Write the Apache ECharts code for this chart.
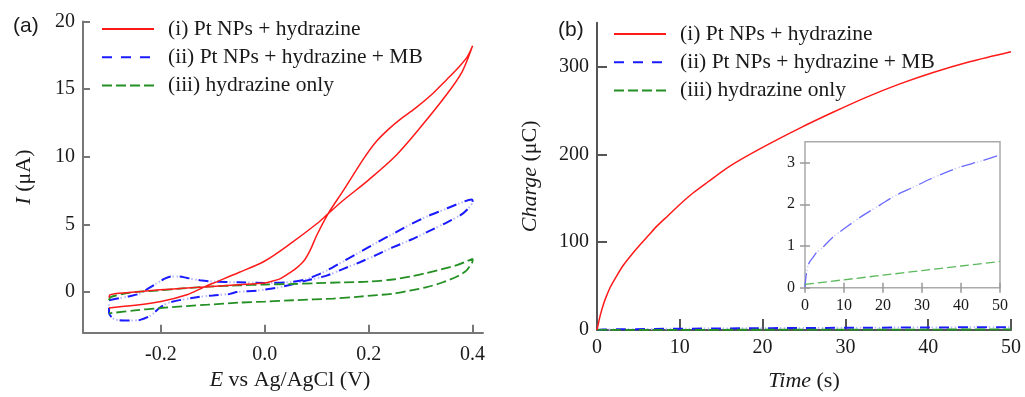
<!DOCTYPE html>
<html>
<head>
<meta charset="utf-8">
<script src="https://cdn.jsdelivr.net/npm/echarts@6/dist/echarts.min.js"></script>
<style>
html, body { margin: 0; padding: 0; background: #fff; }
#chart { width: 1025px; height: 397px; }
</style>
</head>
<body>
<div id="chart"></div>
<script>
// (a) cyclic voltammograms, potential in V, current in uA (each one is a loop)
const redE = [-0.3, -0.25, -0.2, -0.15, -0.118, -0.1, -0.05, 0, 0.05, 0.1, 0.122, 0.15, 0.2, 0.25, 0.3, 0.35, 0.38, 0.4,
    0.39, 0.375, 0.35, 0.324, 0.29, 0.26, 0.24, 0.215, 0.19, 0.151, 0.122, 0.1, 0.087, 0.075, 0.06, 0.045, 0.03, 0.015, 0, -0.05, -0.11, -0.15, -0.208, -0.25, -0.29, -0.298, -0.3];
const redI = [-1.17, -0.98, -0.7, -0.2, 0.35, 0.65, 1.45, 2.3, 3.6, 5.05, 5.8, 6.75, 8.3, 10.0, 12.2, 14.6, 16.3, 18.2,
    17.4, 16.7, 15.7, 14.7, 13.6, 12.75, 12.1, 11.15, 9.85, 7.5, 5.8, 4.2, 3.07, 2.3, 1.75, 1.35, 1.0, 0.82, 0.68, 0.55, 0.4, 0.3, 0.16, 0.0, -0.13, -0.2, -0.4];

const blueE = [-0.3, -0.28, -0.26, -0.24, -0.225, -0.21, -0.195, -0.18, -0.165, -0.15, -0.125, -0.1, -0.05, 0, 0.05, 0.08, 0.1, 0.119, 0.15, 0.183, 0.215, 0.247, 0.28, 0.312, 0.345, 0.376, 0.398,
    0.4, 0.392, 0.376, 0.345, 0.312, 0.28, 0.247, 0.215, 0.183, 0.15, 0.119, 0.08, 0.05, 0.02, -0.015, -0.054, -0.067, -0.1, -0.131, -0.182, -0.201, -0.22, -0.24, -0.255, -0.272, -0.291, -0.3, -0.3];
const blueI = [-0.6, -0.45, -0.3, -0.1, 0.25, 0.6, 0.95, 1.15, 1.15, 1.05, 0.88, 0.78, 0.72, 0.68, 0.75, 0.95, 1.25, 1.59, 2.25, 2.95, 3.65, 4.31, 5.0, 5.59, 6.1, 6.58, 6.85,
    6.7, 6.2, 5.67, 5.05, 4.43, 3.85, 3.32, 2.75, 2.21, 1.7, 1.22, 0.85, 0.55, 0.3, 0.11, 0.0, -0.13, -0.25, -0.38, -0.75, -1.12, -1.74, -2.05, -2.1, -2.1, -1.98, -1.5, -0.8];

const greenE = [-0.3, -0.297, -0.272, -0.25, -0.208, -0.15, -0.11, -0.05, 0, 0.05, 0.1, 0.15, 0.2, 0.25, 0.28, 0.31, 0.343, 0.37, 0.39, 0.4,
    0.4, 0.395, 0.388, 0.37, 0.343, 0.31, 0.279, 0.25, 0.183, 0.132, 0.055, 0, -0.05, -0.11, -0.15, -0.208, -0.25, -0.3];
const greenI = [-0.6, -0.37, -0.13, 0.0, 0.11, 0.3, 0.4, 0.5, 0.56, 0.6, 0.66, 0.72, 0.78, 0.95, 1.15, 1.4, 1.72, 2.0, 2.3, 2.46,
    2.3, 1.95, 1.59, 1.15, 0.73, 0.35, 0.11, -0.1, -0.33, -0.48, -0.6, -0.7, -0.78, -0.93, -1.03, -1.2, -1.35, -1.57];

// (b) charge vs time, uC
const redT = [0, 0.4, 0.8, 1.2, 1.6, 2.4, 3.2, 4.2, 5.2, 6.2, 7.2, 8.6, 10, 11.6, 13.3, 16.1, 20, 24.5, 28.5, 32.5, 36.5, 40.5, 45, 50];
const redQ = [0, 17, 30, 40, 48.7, 62, 74, 86, 97, 107.5, 118, 130.5, 143, 156, 168, 187, 208, 230, 248, 265, 280, 293, 305.5, 317];
const blueT = [0, 0.3, 0.7, 1.2, 2, 3, 4.7, 7, 10.7, 15, 19.2, 23, 27.8, 32, 36.3, 40, 44.9, 50];
const blueQ = [0.02, 0.3, 0.5, 0.62, 0.72, 0.85, 0.98, 1.2, 1.46, 1.74, 1.98, 2.2, 2.41, 2.6, 2.77, 2.9, 3.03, 3.18];
const greenT = [0, 10, 20, 30, 40, 50];
const greenQ = [0.08, 0.19, 0.3, 0.41, 0.52, 0.63];

const names = ['(i) Pt NPs + hydrazine', '(ii) Pt NPs + hydrazine + MB', '(iii) hydrazine only'];
const ticksE = [-0.2, 0, 0.2, 0.4];
const ticksI = [0, 5, 10, 15, 20];
const ticksT = [0, 10, 20, 30, 40, 50];
const ticksQ = [0, 100, 200, 300];
const ticksInsetQ = [0, 1, 2, 3];

const serif = "'Liberation Serif', 'Times New Roman', serif";
const pts = (xs, ys) => xs.map((x, i) => [x, ys[i]]);

const chart = echarts.init(document.getElementById('chart'));

// blue curve: long dashes plus two pale dots in each gap (second series)
const dashDot = (name, data, xi, yi, color, pale, width, dash, gap) => {
    const cycle = dash + gap;
    const start = dash + (gap - 5.5) / 2;
    return [
        {
            name: name, type: 'line', xAxisIndex: xi, yAxisIndex: yi, data: data,
            symbol: 'none', smooth: 0.3, animation: false, z: 3,
            itemStyle: { color: color, opacity: 0 },
            lineStyle: { color: color, width: width, type: [dash, gap] }
        },
        {
            name: name + ' dots', type: 'line', xAxisIndex: xi, yAxisIndex: yi, data: data,
            symbol: 'none', smooth: 0.3, animation: false, z: 2,
            lineStyle: { color: pale, width: width, type: [1.5, 2.5, 1.5, cycle - 5.5], dashOffset: cycle - start }
        }
    ];
};

const plain = (name, data, xi, yi, color, width, type) => ({
    name: name, type: 'line', xAxisIndex: xi, yAxisIndex: yi, data: data,
    symbol: 'none', smooth: 0.3, animation: false, z: 4,
    itemStyle: { color: color, opacity: 0 },
    lineStyle: { color: color, width: width, type: type }
});

const nameStyle = (pad) => ({
    fontFamily: serif, fontSize: 22, color: '#1a1a1a', padding: pad,
    rich: { i: { fontFamily: serif, fontSize: 22, fontStyle: 'italic', color: '#1a1a1a' } }
});

const mainAxis = (grid, pos, min, max, ticks, color, tickLen, extra) => Object.assign({
    type: 'value', gridIndex: grid, position: pos, min: min, max: max,
    axisLine: { show: true, onZero: false, lineStyle: { color: color, width: 2 } },
    axisTick: { show: true, inside: true, length: tickLen, customValues: ticks, lineStyle: { color: color, width: 2 } },
    axisLabel: { customValues: ticks, fontFamily: serif, fontSize: 20, color: '#1a1a1a' },
    splitLine: { show: false },
    nameLocation: 'middle',
    nameTextStyle: nameStyle(0)
}, extra);

const insetAxis = (pos, min, max, ticks, labels) => ({
    type: 'value', gridIndex: 2, position: pos, min: min, max: max,
    axisLine: { show: false },
    axisTick: { show: true, inside: true, length: 5, customValues: ticks, lineStyle: { color: '#999', width: 1.5 } },
    axisLabel: { show: labels, customValues: ticks, fontFamily: serif, fontSize: 16, color: '#1a1a1a', margin: 10 },
    splitLine: { show: false }
});

const legendBase = {
    data: names, orient: 'vertical', itemWidth: 52, itemHeight: 10, itemGap: 0, padding: 0,
    selectedMode: false,
    itemStyle: { opacity: 0 },
    textStyle: { fontFamily: serif, fontSize: 21.5, color: '#1a1a1a', lineHeight: 28.2, padding: [0, 0, 0, 9] }
};

chart.setOption({
    backgroundColor: '#fff',
    animation: false,
    title: [
        { text: '(a)', left: 8, top: 11, textStyle: { fontFamily: "'Liberation Sans', Arial, sans-serif", fontSize: 21, fontWeight: 'normal', color: '#1a1a1a' } },
        { text: '(b)', left: 553, top: 15, textStyle: { fontFamily: "'Liberation Sans', Arial, sans-serif", fontSize: 21, fontWeight: 'normal', color: '#1a1a1a' } }
    ],
    legend: [
        Object.assign({ left: 101, top: 15 }, legendBase),
        Object.assign({ left: 613, top: 20 }, legendBase)
    ],
    grid: [
        { left: 83, top: 21.5, right: 542, bottom: 64.3 },
        { left: 597, top: 22.7, right: 14, bottom: 63.7 },
        { left: 805, top: 141.7, right: 25, bottom: 109.3, show: true, borderColor: '#aaa', borderWidth: 1.5, backgroundColor: '#fff' }
    ],
    xAxis: [
        mainAxis(0, 'bottom', -0.35, 0.42, ticksE, '#777', 8, {
            name: '{i|E} vs Ag/AgCl (V)', nameGap: 36,
            nameTextStyle: nameStyle([0, 0, 0, 14]),
            axisLabel: { customValues: ticksE, fontFamily: serif, fontSize: 20, color: '#1a1a1a', margin: 12, formatter: v => v.toFixed(1) }
        }),
        mainAxis(1, 'bottom', 0, 50, ticksT, '#555', 11, { name: '{i|Time} (s)', nameGap: 40 }),
        insetAxis('bottom', 0, 50, ticksT, true),
        insetAxis('top', 0, 50, ticksT, false)
    ],
    yAxis: [
        mainAxis(0, 'left', -3, 20, ticksI, '#777', 7, { name: '{i|I} (\u03bcA)', nameGap: 48 }),
        mainAxis(1, 'left', 0, 350, ticksQ, '#555', 10, { name: '{i|Charge} (\u03bcC)', nameGap: 56 }),
        insetAxis('left', 0, 3.5, ticksInsetQ, true),
        insetAxis('right', 0, 3.5, ticksInsetQ, false)
    ],
    series: [
        plain(names[2], pts(greenE, greenI), 0, 0, '#249024', 1.8, [10, 4]),
        ...dashDot(names[1], pts(blueE, blueI), 0, 0, '#1a1aff', '#b4b8ff', 2, 10, 9),
        plain(names[0], pts(redE, redI), 0, 0, '#ff1a1a', 1.5, 'solid'),

        plain(names[2], pts(greenT, greenQ), 1, 1, '#249024', 1.8, [10, 4]),
        ...dashDot(names[1], pts(blueT, blueQ), 1, 1, '#1a1aff', '#b4b8ff', 2, 10, 9),
        plain(names[0], pts(redT, redQ), 1, 1, '#ff1a1a', 1.5, 'solid'),

        plain('inset (iii)', pts(greenT, greenQ), 2, 2, '#5cb85c', 1.3, [9, 4]),
        ...dashDot('inset (ii)', pts(blueT, blueQ), 2, 2, '#6a6aff', '#c4c8ff', 1.3, 14, 9)
    ]
});
</script>
</body>
</html>
